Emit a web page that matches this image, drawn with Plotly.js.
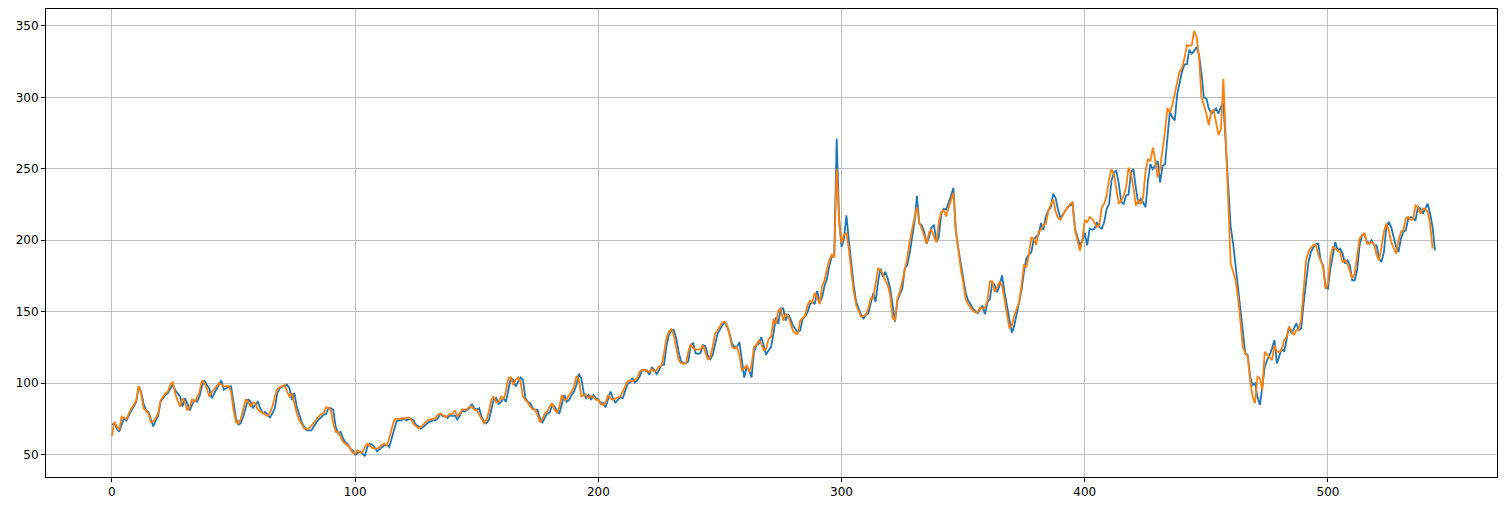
<!DOCTYPE html>
<html>
<head>
<meta charset="utf-8">
<script src="https://cdn.plot.ly/plotly-3.0.1.min.js"></script>
<style>html,body{margin:0;padding:0;background:#fff;}#chart{width:1511px;height:511px;}</style>
</head>
<body>
<div id="chart"></div>
<script>
const actualValues = [
71,72,68.5,66,71,75.5,74,78,81,83.7,
87,97.7,94,86,81,80,74,69.7,74,76.7,
87,89.5,92,93,96.5,99,95.3,93,90.7,83.7,
89.5,86,81,85,88,87,90.7,97.7,102,99,
96.5,89.5,93,96.5,99,102,95.5,96.5,97.7,97.7,
86,75.5,71,72,76.7,83.7,88.8,87,82.5,85,
87,82.5,79,80,78,76,79,82.5,93,96.5,
97.7,98,99,96.5,88.3,93,83.7,78,73,69.7,
67,67,67,69.7,72.5,74.8,76,78,78.3,82.5,
82.5,81.4,69.7,65,66,61.5,58.5,57,54.2,53,
50,51.4,52.3,50.7,49,55.4,57.7,57,55.4,52.3,
53.7,55.4,56.5,57,55.4,61.2,68.2,73.3,74,74,
75.6,74,74.7,75.2,74,71,70,68.2,69.3,71,
72.4,73.3,74,74,75.2,78.7,77,77,75.6,77.5,
77,77.5,74.7,77,81,80.3,81.4,82.5,85.5,82.5,
81.4,82.5,76.7,73.2,72,74.4,81.4,88.8,89.5,85.5,
87,89.5,87,95.3,103.5,102.3,97.7,101,104,102.3,
89.5,87,86,82.5,81.4,81.4,75.5,72.5,75.5,79,
79.5,84.8,83.7,80.2,79,86,91.8,87,88.3,91.8,
94.2,98.8,106.5,103.5,93,89.5,91.8,88.3,91.8,89.5,
88.8,86,86,83.2,89.5,94.2,89.5,86.5,88.3,90.2,
89.5,95.3,99.5,100.5,103.5,100.5,101.9,104.7,109.3,108.9,
108.9,105.8,111.2,109.3,106.5,109.3,112.8,112.8,125.6,133.8,
136.8,137.3,131.5,122.1,115.2,114,114,115.2,126.8,128,
121,120.5,121,126.8,126,119.6,116.8,119.6,126.5,134.6,
137.6,140.8,142.6,139.2,134.6,127.6,125.3,125.3,128.8,117.3,
104,111.5,109.2,104,121.9,126.5,127.6,132.3,126.5,120,
123,125.3,134.6,146,141.5,152.3,152.3,143.8,148.4,145,
140.3,137.6,135.7,136.9,145,146.8,149.5,155.3,156.9,155.3,
164.5,156.5,160,168,173,182.6,188.4,189,271,215,
195.3,201,217.4,200,182.6,168.6,157,152.3,148.1,145.3,
147.7,148.8,157,162.8,157,171,180.2,174.4,178,173.3,
166.3,154.7,143,158.1,162.8,166.3,180.2,182.6,190.7,202.3,
212.8,231,211.6,210.5,205.8,197.7,202.3,209.3,210.5,198.8,
202.3,218.6,222,221.5,226,230.9,236.8,206,194.3,183.7,
175.5,163.7,157.8,155.4,151.9,150.7,149,151.9,154.2,148.3,
156.6,159,170.8,168.4,163.7,168.4,175.5,163.7,154.2,142.5,
135.4,140.1,148.3,154.2,164.9,177.8,187.3,190.1,191.5,200.2,
202.6,203.8,212,207.3,216.7,220.8,223.1,232.5,229.7,221.5,
215.6,218,221,223.1,224.3,225.5,208.1,202.3,196.5,200,
205.1,196.5,208.1,207.4,208.1,212.7,209.3,208.1,212.7,222,
225.5,241.7,247.5,248.6,239.4,226.6,225.5,231.3,232,247.5,
249.8,237,225.5,228.9,226.6,223.1,241.7,253.2,249.8,252.1,
255.6,240.5,252.1,253.2,269.4,290.3,286,283.8,301.9,311.1,
318,323,323.2,333.4,330.6,332.5,335.3,329.5,316.7,299.9,
299.2,292.2,288.7,289.9,292.2,288.7,293.4,295.7,265.4,237.4,
209.4,197.8,181.5,167.5,151.2,137.2,120.9,119.7,104.5,98.7,
99.9,90.5,84.7,97.5,111.5,116.2,119.7,124.4,130.2,113.9,
118.5,124.4,122,131.4,139.5,134.9,138.3,141.8,137.2,138.3,
156,172,184.8,191.8,195.3,197.2,197.7,186,182.5,167.4,
166.2,180.2,188.3,198.8,193,194.2,190.7,183.7,186,182.5,
172,172,179,196.5,203.5,204.2,198.8,197.7,200,196.5,
196.5,187.2,184.8,191.8,209.3,212.8,209.3,202.3,195.3,191.8,
201.2,205.8,207,215.2,216.3,215.2,214,223.3,222.1,218.6,
222.1,225.6,218.6,209.3,193
];

const predictedValues = [
63,73,70,67,76.7,75.5,75,79,82.5,85,
88,98,93,82.5,81,79,73,73,75.5,79,
88,91,93,94,99,101,93,88,83.7,89.5,
87,81,83.7,88.8,87,90,94,102,100,96.5,
90.7,93.5,95.8,97.7,100,99,97.7,98,98,94,
81.4,73,72,74.8,81.4,88.8,87,83.7,86.5,86,
81.4,80.2,79,78,77,79.5,83.7,90.7,95.8,97.2,
98.1,98.8,94.2,90.7,93,84.8,79,74.4,70.9,68.5,
67.8,68.5,70.2,72.5,74.8,76.7,78.3,79,83.2,83,
81.4,72,66,66,62.7,59.2,57.6,56.5,54.2,51.4,
50.7,53,51.4,51.4,55.4,57.7,56.5,54.7,54.2,54.2,
55.4,57,57.7,56.5,61.2,68.2,74,75.2,74.7,75.6,
75.2,75.6,76,74.7,71.7,70,68.5,69.3,71,72.8,
74.2,74.7,75.2,75.6,78,78.7,78,76.4,77,78.7,
78.7,81,77,78.7,81.7,81.4,81.8,83.7,83.7,81.4,
81.4,77.9,74.4,72,74.4,80.2,88.3,90.7,86.5,87,
90.7,88.8,94.2,103.5,104.2,98.8,102.3,104.2,101.2,90.7,
88.3,86.5,83.7,81.8,81.4,77.9,73.2,74.8,79,80.2,
83.7,86,81.4,79.5,83.7,91.8,88.3,88.8,91.8,94.2,
97.7,105,102.3,90.7,91.8,91.8,89.5,91.1,90.2,88.3,
88.3,85.5,84.8,86.5,91.8,89.5,88.3,89.5,90.2,90.7,
94.2,98.8,101.2,101.9,101.2,102.3,103.5,108.2,109.3,109.3,
108.2,108.2,109.8,108.2,109.3,111.7,112.3,121,131.5,136.1,
137.7,133.8,124.5,116.3,114,113.5,114,122.1,127.5,124.5,
123.3,123.8,123.8,126.5,121.9,116.8,118.4,125.3,134.6,137.6,
140.3,142.6,143,140.3,133.4,125.3,124.2,125.3,119.6,109.2,
110.4,112.7,108.1,112.7,125.3,127,130,127.6,123,124.2,
131.1,132.3,145,141.5,150.7,152.3,143.8,148.4,147.2,141.5,
136.9,134.6,134.6,143.8,145.4,147.2,154.6,157.6,156.5,163.4,
159.9,155.3,168,172,180,186,190,188,250,212.8,
198,204,205,194,178,164,154.7,150,146.5,147,
148,152.3,159.3,159.3,169.8,180.2,179,176.7,172,168.6,
161.6,145.3,144.2,159.3,164,171,178,187.2,198.8,208.1,
216,223,212,208.1,202.3,197.7,205.8,207,202.3,198.8,
212.8,219.8,221,216.7,222.6,227.4,233.3,207.3,192,180.2,
170.8,159,155.4,153,150.7,149.5,150,153,151.9,153,
157.8,171.2,171.2,163.7,167.2,170.8,168.4,159,147.2,138.9,
140.1,147.2,151.9,156.6,168.4,182.5,181.4,189.6,201.9,201.4,
196.7,206,207.3,210.8,211.3,220.3,225,228.5,220.3,215.6,
214.4,218,220.8,223,225.5,226.6,207,200,192.6,200,
213.9,212.7,216.2,215,211.6,209.3,210.4,223.1,225.5,231.3,
242.8,249.8,246.3,237,225.5,227.8,231.3,237,250.9,246.3,
237,224.3,227.8,225.5,230.1,248.6,256.7,255.6,264.8,255.6,
244,250.9,262.5,276.4,292.6,289.1,294.9,301.9,308.8,318,
320.4,327.3,336.5,336,336.5,346.5,342,328,300,295,
288.7,280.5,290,291,282,273.6,278,313,270,225,
184,178,172,160.5,144,125.5,121,118.5,102.2,90.5,
86,104.5,103.4,95,122,120,118.5,116.2,126.6,122,
122,123.2,130.2,132.5,139.5,136,133.7,137.2,137.5,145,
168,186,192,195,196.5,197,190,186,181.4,166,
169.7,188.3,195.3,194,193,191.8,184.8,186,183.7,179,
173.2,176.7,190.7,201.2,203.5,205.1,197.7,197.7,198.8,197,
189.5,186,195.3,205.8,211.7,207,198.8,195.3,190.7,200,
205.8,207,215.2,216.3,214.5,214.5,224.5,223.3,218.6,222.1,
222.1,219.8,211.7,194.2
];

const xTickValues = [0, 100, 200, 300, 400, 500];
const yTickValues = [50, 100, 150, 200, 250, 300, 350];

const xActual = actualValues.map((_, i) => i);
const xPred = predictedValues.map((_, i) => i);

const traces = [
  {x: xActual, y: actualValues, type: 'scatter', mode: 'lines',
   line: {color: '#1f77b4', width: 1.8}, hoverinfo: 'x+y'},
  {x: xPred, y: predictedValues, type: 'scatter', mode: 'lines',
   line: {color: '#ff7f0e', width: 1.8}, hoverinfo: 'x+y'}
];

const axisCommon = {
  showgrid: true, gridcolor: '#b0b0b0', gridwidth: 0.8,
  zeroline: false, showline: true, mirror: true,
  linecolor: '#000', linewidth: 1,
  ticks: 'outside', ticklen: 4, tickwidth: 1, tickcolor: '#000',
  tickfont: {family: 'DejaVu Sans', size: 12, color: '#000'}
};

const layout = {
  width: 1511, height: 511,
  margin: {l: 46, r: 14, t: 9, b: 34, pad: 0},
  paper_bgcolor: '#fff', plot_bgcolor: '#fff',
  showlegend: false,
  xaxis: Object.assign({}, axisCommon, {range: [-27.1, 569.5], tickvals: xTickValues, ticktext: xTickValues.map(String)}),
  yaxis: Object.assign({}, axisCommon, {range: [34.4, 361.8], tickvals: yTickValues, ticktext: yTickValues.map(String)}),
  font: {family: 'DejaVu Sans', size: 12, color: '#000'}
};

Plotly.newPlot('chart', traces, layout, {displayModeBar: false, staticPlot: true});
</script>
</body>
</html>
